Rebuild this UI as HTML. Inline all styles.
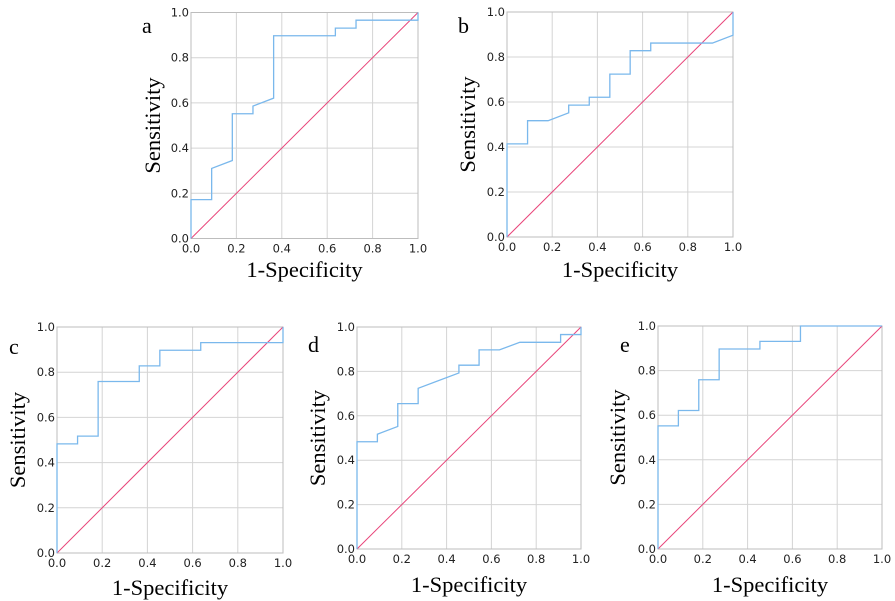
<!DOCTYPE html>
<html><head><meta charset="utf-8"><style>
body{margin:0;background:#fff;width:895px;height:601px;overflow:hidden}
svg{display:block}
.tick{font-family:"DejaVu Sans","Liberation Sans",sans-serif;font-size:11.5px;fill:#222}
.title{font-family:"Liberation Serif",serif;font-size:22.5px;fill:#000}
.letter{font-family:"Liberation Serif",serif;font-size:22px;fill:#000}
</style></head><body>
<svg id="chart" width="895" height="601" xmlns="http://www.w3.org/2000/svg"></svg>
<script>
const panelLetters=["a","b","c","d","e"];
const tickValues=[0,0.2,0.4,0.6,0.8,1.0];
const tickLabels=["0.0","0.2","0.4","0.6","0.8","1.0"];
const fprA=[0,0,0.091,0.091,0.182,0.182,0.273,0.273,0.364,0.364,0.636,0.636,0.727,0.727,1,1];
const tprA=[0,0.172,0.172,0.31,0.345,0.552,0.552,0.586,0.621,0.897,0.897,0.931,0.931,0.966,0.966,1];
const fprB=[0,0,0.091,0.091,0.182,0.273,0.273,0.364,0.364,0.455,0.455,0.545,0.545,0.636,0.636,0.909,1,1];
const tprB=[0,0.414,0.414,0.517,0.517,0.552,0.586,0.586,0.621,0.621,0.724,0.724,0.828,0.828,0.862,0.862,0.897,1];
const fprC=[0,0,0.091,0.091,0.182,0.182,0.364,0.364,0.455,0.455,0.636,0.636,1,1];
const tprC=[0,0.483,0.483,0.517,0.517,0.759,0.759,0.828,0.828,0.897,0.897,0.931,0.931,1];
const fprD=[0,0,0.091,0.091,0.182,0.182,0.273,0.273,0.455,0.455,0.545,0.545,0.636,0.727,0.909,0.909,1,1];
const tprD=[0,0.483,0.483,0.517,0.552,0.655,0.655,0.724,0.793,0.828,0.828,0.897,0.897,0.931,0.931,0.966,0.966,1];
const fprE=[0,0,0.091,0.091,0.182,0.182,0.273,0.273,0.455,0.455,0.636,0.636,1];
const tprE=[0,0.552,0.552,0.621,0.621,0.759,0.759,0.897,0.897,0.931,0.931,1,1];
const fprs=[fprA,fprB,fprC,fprD,fprE];
const tprs=[tprA,tprB,tprC,tprD,tprE];
const frames=[
 {x0:191,x1:418,y0:12.5,y1:238.5,lx:142,ly:33,yt:153,xt:270},
 {x0:507,x1:733,y0:12,y1:237,lx:458,ly:33,yt:468,xt:270},
 {x0:57,x1:283,y0:327,y1:553,lx:9,ly:354,yt:18,xt:588},
 {x0:357,x1:581,y0:327,y1:549,lx:308,ly:352,yt:318,xt:585},
 {x0:658,x1:882,y0:326,y1:549,lx:620,ly:352,yt:618,xt:585}];
const NS="http://www.w3.org/2000/svg";
const svg=document.getElementById('chart');
function mk(t,a,p){const e=document.createElementNS(NS,t);for(const k in a)e.setAttribute(k,a[k]);(p||svg).appendChild(e);return e;}
frames.forEach((f,i)=>{
 const g=mk('g',{});
 
 
 const sx=v=>f.x0+v*(f.x1-f.x0), sy=v=>f.y1-v*(f.y1-f.y0);
 tickValues.forEach((v,j)=>{
  if(j>0&&j<5){
   const gv=mk('line',{x1:sx(v),x2:sx(v),y1:f.y0,y2:f.y1,stroke:'#d4d4d4','stroke-width':1},g);
   
   const gh=mk('line',{x1:f.x0,x2:f.x1,y1:sy(v),y2:sy(v),stroke:'#d4d4d4','stroke-width':1},g);
   
  }
  const tx=mk('text',{x:sx(v),y:f.y1+14,'text-anchor':'middle',class:'tick'},g);tx.textContent=tickLabels[j];
  
  const ty=mk('text',{x:f.x0-2,y:sy(v)+4,'text-anchor':'end',class:'tick'},g);ty.textContent=tickLabels[j];
  
 });
 const fr=mk('rect',{x:f.x0,y:f.y0,width:f.x1-f.x0,height:f.y1-f.y0,fill:'none',stroke:'#bdbdbd','stroke-width':1},g);
 
 const ref=mk('line',{x1:sx(0),y1:sy(0),x2:sx(1),y2:sy(1),stroke:'#e8457a','stroke-width':1},g);
 
 const pts=fprs[i].map((x,k)=>sx(x)+','+sy(tprs[i][k])).join(' ');
 const roc=mk('polyline',{points:pts,fill:'none',stroke:'#7ab8ec','stroke-width':1.3},g);
 
 const L=mk('text',{x:f.lx,y:f.ly,class:'letter'},g);L.textContent=panelLetters[i];
 
 const cy=(f.y0+f.y1)/2;
 const yt=mk('text',{x:f.yt,y:cy,'text-anchor':'middle',class:'title',transform:'rotate(-90 '+f.yt+' '+cy+')',dy:'7'},g);yt.textContent='Sensitivity';
 
 const xt=mk('text',{x:(f.x0+f.x1)/2,y:f.xt+7,'text-anchor':'middle',class:'title'},g);xt.textContent='1-Specificity';
 
});
</script>
</body></html>
